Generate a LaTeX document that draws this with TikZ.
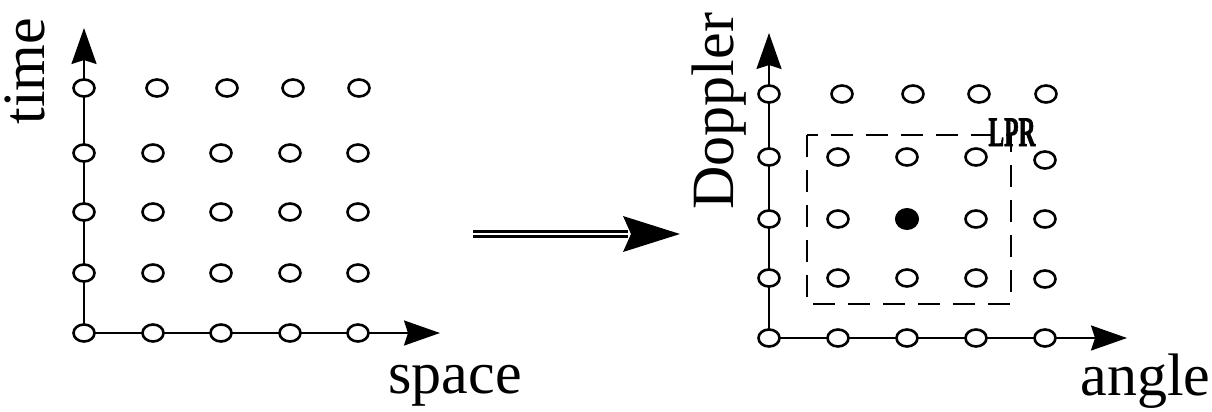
\documentclass[tikz,border=0pt]{standalone}
\usepackage{fontspec}
\setmainfont{Liberation Serif}
\newfontfamily\lprfont[BoldFeatures={FakeBold=2}]{Liberation Serif}
\usetikzlibrary{arrows.meta,shapes.geometric}
\begin{document}
\begin{tikzpicture}[x=0.5pt,y=-0.5pt,
  pt/.style={ellipse,draw,line width=1.3pt,fill=white,inner sep=0pt,minimum width=10.5pt,minimum height=8.5pt},
  dotpt/.style={ellipse,draw,line width=1pt,fill=black,inner sep=0pt,minimum width=11pt,minimum height=10pt},
  axis/.style={line width=1.2pt,-{Stealth[length=18pt,width=12.5pt,inset=2pt]}},
  lbl/.style={inner sep=0pt,font=\fontsize{30}{36}\selectfont},
  roi/.style={line width=1.1pt,dash pattern=on 11pt off 6.5pt}]
\useasboundingbox (0,0) rectangle (1212,412);

% ---------- left panel ----------
\coordinate (LO) at (84,333);
\coordinate (LY) at (84,28);
\coordinate (LX) at (440,333);
\draw[axis] (LO) -- (LY);
\draw[axis] (LO) -- (LX);
\foreach \c/\x in {1/84,2/157,3/227,4/293,5/359}
  \node[pt] (L-1-\c) at (\x,88) {};
\foreach \r/\y in {2/153,3/212,4/273,5/333}
  \foreach \c/\x in {1/84,2/153,3/221,4/290,5/358}
    \node[pt] (L-\r-\c) at (\x,\y) {};
\node[lbl,rotate=90,anchor=base west] (ltime) at (45,125) {time};
\node[lbl,anchor=base west] (lspace) at (388,393) {space};

% ---------- transformation arrow ----------
\coordinate (bstart) at (473,234);
\coordinate (bend) at (628,234);
\coordinate (btip) at (680,234);
\draw[line width=1.5pt,double,double distance=1pt] (bstart) -- (bend);
\fill (btip) -- (623,216) .. controls (628,225) .. (631,234) .. controls (628,243) .. (623,252) -- cycle;

% ---------- right panel ----------
\coordinate (RO) at (769,338);
\coordinate (RY) at (769,33);
\coordinate (RX) at (1127,338);
\draw[axis] (RO) -- (RY);
\draw[axis] (RO) -- (RX);
\coordinate (boxA) at (807,135);
\coordinate (boxB) at (1011,304);
\draw[roi] (boxA) rectangle (boxB);
\foreach \c/\x in {1/769,2/842,3/913,4/979,5/1046}
  \node[pt] (R-1-\c) at (\x,94) {};
\foreach \r/\y/\e in {2/157/160,3/219/219,4/278/279,5/338/338}{
  \foreach \c/\x in {1/769,2/838,3/907,4/976}
    \node[pt] (R-\r-\c) at (\x,\y) {};
  \node[pt] (R-\r-5) at (1045,\e) {};
}
\node[dotpt] (R-3-3b) at (907,219) {};
\node[inner sep=0pt,anchor=base,font=\fontsize{21}{23}\lprfont\bfseries] (lpr) at (1012,146) {\scalebox{0.56}[1]{LPR}};
\node[lbl,rotate=90,anchor=base west] (rdop) at (733,210) {Doppler};
\node[lbl,anchor=base west] (rangle) at (1080,395) {angle};
\end{tikzpicture}
\end{document}
